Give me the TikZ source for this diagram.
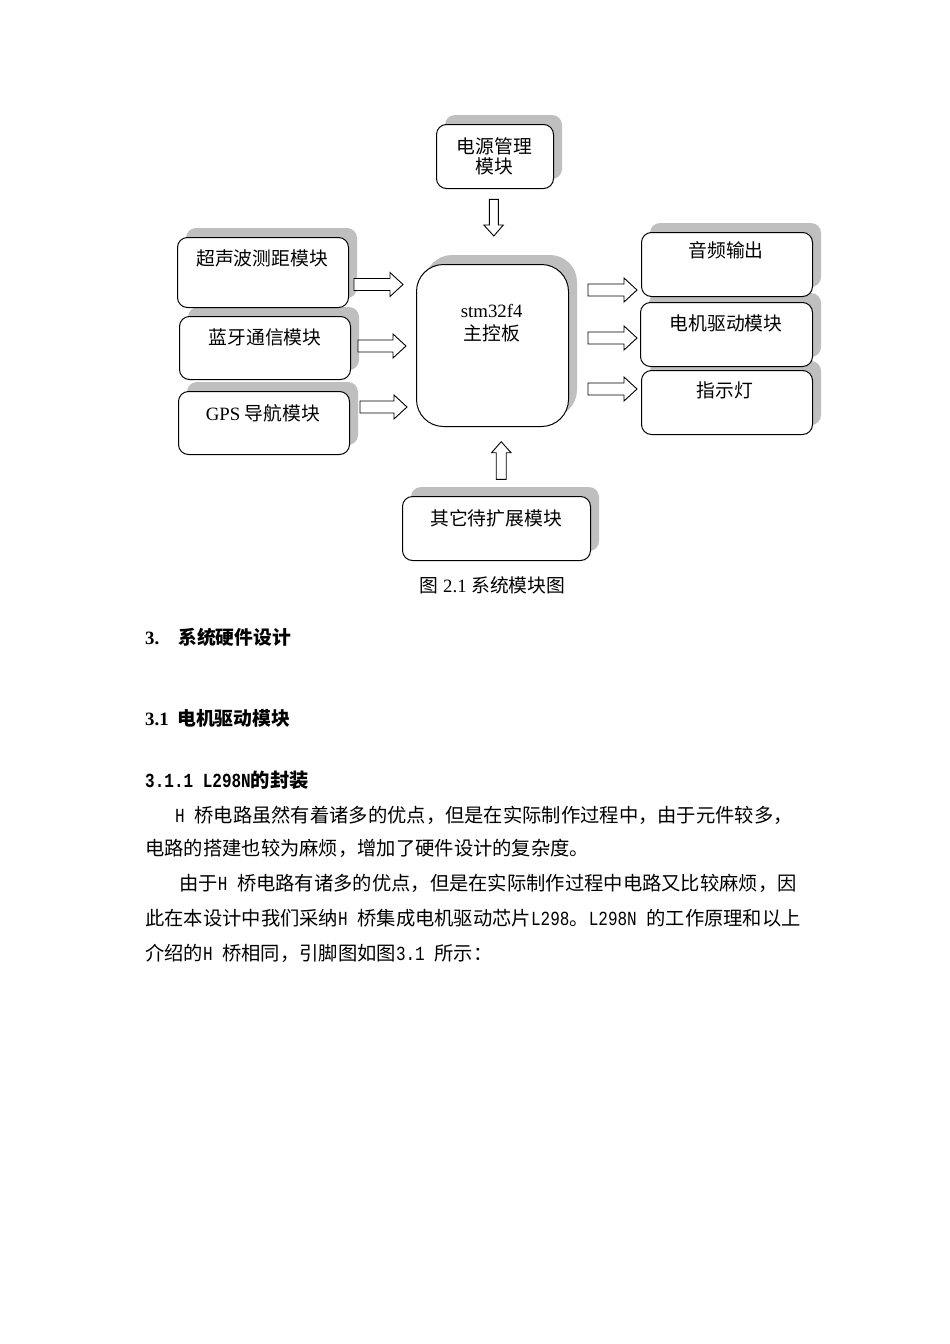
\documentclass[tikz,border=0pt]{standalone}
\usepackage{fontspec}
\setmainfont{Liberation Serif}
\newfontfamily\cjk{Noto Sans CJK SC}
\newfontfamily\monof[FakeStretch=0.8]{Liberation Mono}
\newcommand\fsz{\fontsize{18.8}{18.8}\selectfont}
\newcommand\bsz{\fontsize{19.3}{19.3}\selectfont}
\newcommand\ml[1]{{\monof\fontsize{20}{20}\selectfont #1}}
\newcommand\mlb[1]{{\monof\bfseries\fontsize{20}{20}\selectfont #1}}
\tikzset{
  boxc/.style={draw, line width=1pt, fill=white, rounded corners=10pt, inner sep=0pt, anchor=north west},
  shadowc/.style={fill=black!25},
  arr/.style={draw, line width=0.9pt, fill=white, line join=miter},
  txt/.style={inner sep=0pt, font=\fsz},
  body/.style={inner sep=0pt, font=\bsz, anchor=base west},
}
\newcommand\shad[5]{\fill[shadowc, rounded corners=#5] (#1+9,#2-9) rectangle (#3+9,#4-9);}
\newcommand\rarr[3]{\draw[arr] (#1,#3-6) -- (#2-13,#3-6) -- (#2-13,#3-12) -- (#2,#3) -- (#2-13,#3+12) -- (#2-13,#3+6) -- (#1,#3+6) -- cycle;}
\begin{document}
\begin{tikzpicture}[x=1pt,y=-1pt]
\useasboundingbox[fill=white] (0,0) rectangle (950,1344);

% shadows
\shad{436}{124}{553}{188}{10pt}
\shad{177}{237}{348}{307}{10pt}
\shad{179}{316}{350}{379}{10pt}
\shad{178}{391}{349}{454}{10pt}
\shad{416}{264}{568}{426}{27pt}
\shad{641}{232}{812}{296}{10pt}
\shad{640}{302}{812}{366}{10pt}
\shad{641}{370}{812}{434}{10pt}
\shad{402}{496}{590}{560}{10pt}

% boxes
\node[boxc, minimum width=117pt, minimum height=64pt] (pwr) at (436,124) {};
\node[boxc, minimum width=171pt, minimum height=70pt] (ultra) at (177,237) {};
\node[boxc, minimum width=171pt, minimum height=63pt] (bt) at (179,316) {};
\node[boxc, minimum width=171pt, minimum height=63pt] (gps) at (178,391) {};
\node[boxc, rounded corners=27pt, minimum width=152pt, minimum height=162pt] (main) at (416,264) {};
\node[boxc, minimum width=171pt, minimum height=64pt] (audio) at (641,232) {};
\node[boxc, minimum width=172pt, minimum height=64pt] (motor) at (640,302) {};
\node[boxc, minimum width=171pt, minimum height=64pt] (led) at (641,370) {};
\node[boxc, minimum width=188pt, minimum height=64pt] (ext) at (402,496) {};

% box labels
\node[txt, anchor=base] (tpwr1) at (494.5,153) {\cjk 电源管理};
\node[txt, anchor=base] (tpwr2) at (494.5,173.5) {\cjk 模块};
\node[txt, anchor=base] (tultra) at (262,265.5) {\cjk 超声波测距模块};
\node[txt, anchor=base] (tbt) at (265,344.5) {\cjk 蓝牙通信模块};
\node[txt, anchor=base] (tgps) at (263,420) {GPS {\cjk 导航模块}};
\node[txt, anchor=base] (tmain1) at (491.7,317.3) {stm32f4};
\node[txt, anchor=base] (tmain2) at (491.7,340) {\cjk 主控板};
\node[txt, anchor=base] (taudio) at (726,257.5) {\cjk 音频输出};
\node[txt, anchor=base] (tmotor) at (726,330.5) {\cjk 电机驱动模块};
\node[txt, anchor=base] (tled) at (725,397) {\cjk 指示灯};
\node[txt, anchor=base] (text) at (496,525.5) {\cjk 其它待扩展模块};

% block arrows
\draw[arr] (489.3,199.3) -- (498.3,199.3) -- (498.3,225) -- (503.3,225) -- (493.8,236) -- (483.8,225) -- (489.3,225) -- cycle;
\rarr{354}{403}{284.5}
\rarr{358}{406}{346}
\rarr{360}{407}{407}
\rarr{588}{637}{290}
\rarr{588}{637}{338}
\rarr{588}{637}{389}
\draw[arr] (496.2,479.3) -- (506.2,479.3) -- (506.2,452.7) -- (511,452.7) -- (501.2,441.7) -- (491.6,452.7) -- (496.2,452.7) -- cycle;

% caption
\node[txt, anchor=base] (cap) at (492.5,592) {{\cjk 图} 2.1 {\cjk 系统模块图}};

% headings
\node[txt, anchor=base west, font=\fsz\bfseries] (h3n) at (145,644) {3.};
\node[txt, anchor=base west, font=\fsz\bfseries] (h3t) at (178,644) {\cjk\bfseries 系统硬件设计};
\node[txt, anchor=base west, font=\fsz\bfseries] (h31n) at (145,725.5) {3.1};
\node[txt, anchor=base west, font=\fsz\bfseries] (h31t) at (177,725.5) {\cjk\bfseries 电机驱动模块};
\node[body] (h311) at (145,787) {\mlb{3.1.1 L298N}{\cjk\bfseries 的封装}};

% body
\node[body] (l1) at (175,822) {\ml{H }{\cjk 桥电路虽然有着诸多的优点，但是在实际制作过程中，由于元件较多，}};
\node[body] (l2) at (145,855.5) {\cjk 电路的搭建也较为麻烦，增加了硬件设计的复杂度。};
\node[body] (l3) at (179,890.5) {{\cjk 由于}\ml{H }{\cjk 桥电路有诸多的优点，但是在实际制作过程中电路又比较麻烦，因}};
\node[body] (l4) at (145,925.5) {{\cjk 此在本设计中我们采纳}\ml{H }{\cjk 桥集成电机驱动芯片}\ml{L298}{\cjk 。}\ml{L298N }{\cjk 的工作原理和以上}};
\node[body] (l5) at (145,960.5) {{\cjk 介绍的}\ml{H }{\cjk 桥相同，引脚图如图}\ml{3.1 }{\cjk 所示：}};
\end{tikzpicture}
\end{document}
